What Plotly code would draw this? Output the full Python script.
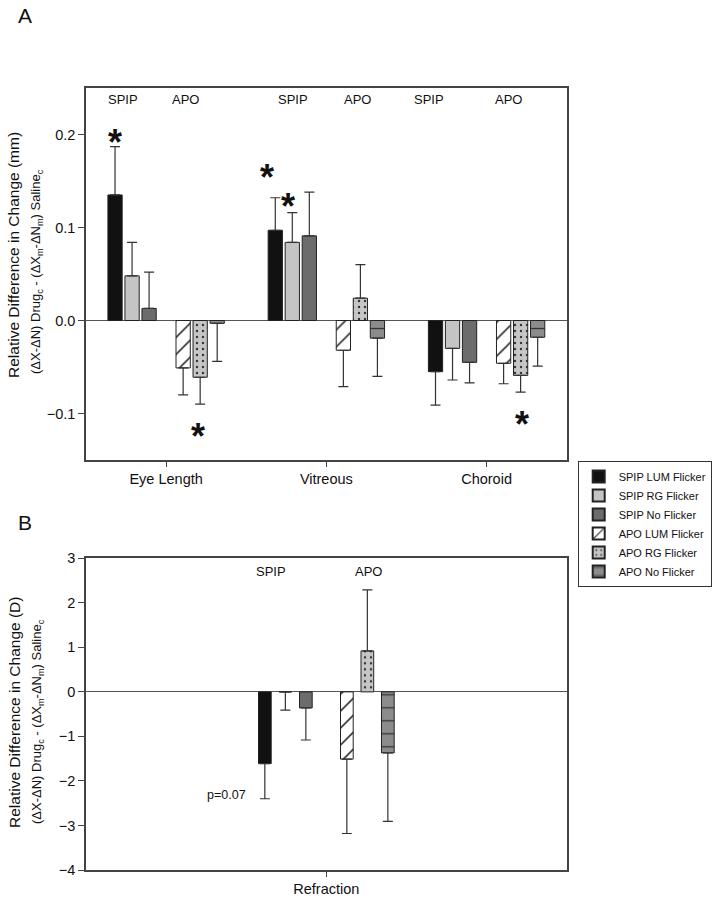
import plotly.graph_objects as go

# ---------------- data ----------------
series_names = ["SPIP LUM Flicker", "SPIP RG Flicker", "SPIP No Flicker",
                "APO LUM Flicker", "APO RG Flicker", "APO No Flicker"]

categories_a = ["Eye Length", "Vitreous", "Choroid"]
spip_lum_a = [0.135, 0.097, -0.055]
spip_rg_a = [0.048, 0.084, -0.030]
spip_no_a = [0.013, 0.091, -0.045]
apo_lum_a = [-0.051, -0.032, -0.046]
apo_rg_a = [-0.061, 0.024, -0.059]
apo_no_a = [-0.003, -0.019, -0.018]
spip_lum_a_err = [0.052, 0.035, 0.036]
spip_rg_a_err = [0.036, 0.032, 0.034]
spip_no_a_err = [0.039, 0.047, 0.022]
apo_lum_a_err = [0.029, 0.039, 0.022]
apo_rg_a_err = [0.029, 0.036, 0.018]
apo_no_a_err = [0.041, 0.041, 0.031]

categories_b = ["Refraction"]
spip_lum_b = [-1.61]
spip_rg_b = [0.0]
spip_no_b = [-0.36]
apo_lum_b = [-1.51]
apo_rg_b = [0.92]
apo_no_b = [-1.37]
spip_lum_b_err = [0.79]
spip_rg_b_err = [0.41]
spip_no_b_err = [0.72]
apo_lum_b_err = [1.67]
apo_rg_b_err = [1.37]
apo_no_b_err = [1.54]

yticks_a = [-0.1, 0.0, 0.1, 0.2]
yticks_b = [-4, -3, -2, -1, 0, 1, 2, 3]

# ---------------- styles ----------------
FONT = "Arial, 'Liberation Sans', sans-serif"
styles = [
    dict(color="#111111", pattern=None),
    dict(color="#c4c4c4", pattern=None),
    dict(color="#6c6c6c", pattern=None),
    dict(color="#ffffff", pattern=dict(shape="/", fgcolor="#111111", bgcolor="#ffffff",
                                        size=12, solidity=0.12, fillmode="replace")),
    dict(color="#c6c6c6", pattern=dict(shape=".", fgcolor="#333333", bgcolor="#c6c6c6",
                                        size=6, solidity=0.12, fillmode="replace")),
    dict(color="#8c8c8c", pattern=dict(shape="-", fgcolor="#333333", bgcolor="#8c8c8c",
                                        size=13, solidity=0.1, fillmode="replace")),
]
slot_index = [0, 1, 2, 4, 5, 6]  # slot 3 is an empty spacer between SPIP and APO

fig = go.Figure()


def add_bars(cats, vals_list, errs_list, xaxis, yaxis, slot_w, bar_w, showlegend):
    for k, (vals, errs) in enumerate(zip(vals_list, errs_list)):
        st = styles[k]
        marker = dict(color=st["color"], line=dict(color="#222222", width=1))
        if st["pattern"] is not None:
            marker["pattern"] = st["pattern"]
        up = [e if v > 0 else 0 for v, e in zip(vals, errs)]
        down = [e if v <= 0 else 0 for v, e in zip(vals, errs)]
        fig.add_trace(go.Bar(
            x=cats, y=vals, name=series_names[k], legendgroup=series_names[k],
            showlegend=showlegend, marker=marker,
            offset=(slot_index[k] - 3) * slot_w - bar_w / 2, width=bar_w,
            error_y=dict(type="data", symmetric=False, array=up, arrayminus=down,
                         color="#333333", thickness=1.2, width=5),
            xaxis=xaxis, yaxis=yaxis,
        ))


add_bars(categories_a,
         [spip_lum_a, spip_rg_a, spip_no_a, apo_lum_a, apo_rg_a, apo_no_a],
         [spip_lum_a_err, spip_rg_a_err, spip_no_a_err, apo_lum_a_err, apo_rg_a_err, apo_no_a_err],
         "x", "y", 0.10625, 0.089, True)
add_bars(categories_b,
         [spip_lum_b, spip_rg_b, spip_no_b, apo_lum_b, apo_rg_b, apo_no_b],
         [spip_lum_b_err, spip_rg_b_err, spip_no_b_err, apo_lum_b_err, apo_rg_b_err, apo_no_b_err],
         "x2", "y2", 0.04265, 0.0264, False)

W, H = 714, 901


def px_x(p):
    return p / W


def px_y(p):
    return 1 - p / H


axis_common = dict(showline=True, mirror=True, linecolor="#444444", linewidth=1.5,
                   showgrid=False, ticks="outside", tickcolor="#444444", automargin=False,
                   tickfont=dict(family=FONT, size=14.5, color="#111111"))

fig.update_layout(
    width=W, height=H, margin=dict(l=0, r=0, t=0, b=0, autoexpand=False),
    paper_bgcolor="white", plot_bgcolor="white", barmode="overlay",
    font=dict(family=FONT, color="#111111"),
    xaxis=dict(domain=[px_x(86), px_x(566.7)], anchor="y", type="category",
               range=[-0.5, 2.5], ticklen=5, **axis_common),
    yaxis=dict(domain=[px_y(460), px_y(88)], anchor="x", range=[-0.15, 0.25],
               tickvals=yticks_a, tickformat=".1f", ticklen=6,
               zeroline=True, zerolinecolor="#555555", zerolinewidth=1, **axis_common),
    xaxis2=dict(domain=[px_x(86), px_x(566.7)], anchor="y2", type="category",
                range=[-0.5, 0.5], ticklen=5, **axis_common),
    yaxis2=dict(domain=[px_y(870), px_y(558.3)], anchor="x2", range=[-4, 3],
                tickvals=yticks_b, ticklen=6,
                zeroline=True, zerolinecolor="#555555", zerolinewidth=1, **axis_common),
    legend=dict(x=px_x(577.7), y=px_y(461), xanchor="left", yanchor="top",
                bordercolor="#333333", borderwidth=1, bgcolor="white",
                font=dict(family=FONT, size=11, color="#111111"),
                tracegroupgap=0, itemsizing="constant"),
)

ann = []


def text(x, y, s, size, xref="paper", yref="paper", angle=0, xshift=0, yshift=0):
    ann.append(dict(x=x, y=y, text=s, xref=xref, yref=yref, showarrow=False,
                    xanchor="center", yanchor="middle",
                    textangle=angle, xshift=xshift, yshift=yshift,
                    font=dict(family=FONT, size=size, color="#111111")))


# panel letters
text(px_x(25), px_y(16), "A", 21)
text(px_x(25), px_y(522), "B", 21)

# y-axis titles (two lines each)
sub = "(ΔX-ΔN) Drug<sub>c</sub> - (ΔX<sub>m</sub>-ΔN<sub>m</sub>) Saline<sub>c</sub>"
text(px_x(14), px_y(255), "Relative Difference in Change (mm)", 15.5, angle=-90)
text(px_x(37), px_y(272), sub, 13, angle=-90)
text(px_x(14), px_y(713), "Relative Difference in Change (D)", 15.5, angle=-90)
text(px_x(37), px_y(722), sub, 13, angle=-90)

# group headers, panel A
hdr_a = [(0, -0.267, "SPIP"), (0, 0.119, "APO"), (1, -0.206, "SPIP"), (1, 0.195, "APO"),
         (2, -0.358, "SPIP"), (2, 0.139, "APO")]
for ci, off, s in hdr_a:
    text(ci + off, 0.238, s, 13, xref="x", yref="y")
# group headers, panel B
text(-0.1157, 2.71, "SPIP", 13, xref="x2", yref="y2")
text(0.0874, 2.71, "APO", 13, xref="x2", yref="y2")
text(-0.207, -2.31, "p=0.07", 12.5, xref="x2", yref="y2")

# significance asterisks (category index, slot, y, pixel shift)
stars = [(0, 0, 0.200, 0), (0, 5, -0.116, -2), (1, 0, 0.162, -8), (1, 1, 0.131, -4), (2, 5, -0.103, 1)]
for ci, sl, y, dx in stars:
    text(ci + (sl - 3) * 0.10625, y, "<b>*</b>", 36, xref="x", yref="y", xshift=dx, yshift=-8)

fig.update_layout(annotations=ann)
# remove the browser's default 8px body margin so the figure fills the window exactly
fig.write_html("out.html", config={"displayModeBar": False},
               post_script="document.body.style.margin='0';")
